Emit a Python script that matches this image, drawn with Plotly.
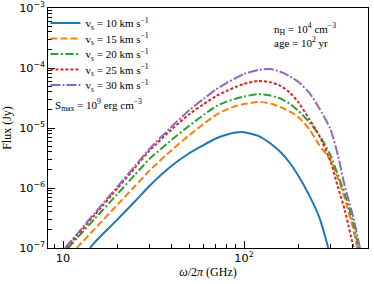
import plotly.graph_objects as go

# Frequencies (GHz) and fluxes (Jy)
f_10 = [14.1, 15, 20, 25, 30, 40, 50, 60, 70, 80, 90, 100, 120, 140, 160, 180, 200, 230, 260, 280, 292]
F_10 = [1.0e-7, 1.25e-7, 3.0e-7, 6.0e-7, 1.08e-6, 2.37e-6, 3.83e-6, 5.25e-6, 6.68e-6, 7.7e-6,
        8.38e-6, 8.51e-6, 7.4e-6, 5.52e-6, 3.9e-6, 2.56e-6, 1.58e-6, 7.4e-7, 3.29e-7, 1.6e-7, 1.0e-7]

f_15 = [11.9, 15, 20, 25, 30, 40, 50, 60, 70, 80, 90, 100, 120, 140, 160, 180, 200, 230, 260, 300, 330, 360, 400, 423]
F_15 = [1.0e-7, 2.1e-7, 5.29e-7, 1.08e-6, 1.94e-6, 4.35e-6, 7.64e-6, 1.18e-5, 1.65e-5, 2.03e-5, 2.33e-5,
        2.51e-5, 2.71e-5, 2.56e-5, 2.22e-5, 1.86e-5, 1.51e-5, 9.44e-6, 5.21e-6, 2.93e-6, 1.47e-6, 6.81e-7,
        2.15e-7, 1.0e-7]

f_20 = [10.66, 12, 15, 20, 25, 30, 40, 50, 60, 70, 80, 90, 100, 120, 140, 160, 180, 200, 230, 260, 300, 330, 360, 400, 428]
F_20 = [1.0e-7, 1.48e-7, 3.09e-7, 8.0e-7, 1.67e-6, 3.04e-6, 6.41e-6, 1.1e-5, 1.67e-5, 2.3e-5, 2.75e-5,
        3.08e-5, 3.35e-5, 3.66e-5, 3.48e-5, 3.07e-5, 2.51e-5, 1.92e-5, 1.24e-5, 7.7e-6, 3.55e-6, 1.65e-6,
        7.94e-7, 2.71e-7, 1.0e-7]

f_25 = [10.48, 12, 15, 20, 25, 30, 40, 50, 60, 70, 80, 90, 100, 120, 140, 160, 180, 200, 230, 260, 300, 330, 360, 403]
F_25 = [1.0e-7, 1.62e-7, 3.58e-7, 9.9e-7, 2.18e-6, 4.17e-6, 9.59e-6, 1.71e-5, 2.51e-5, 3.4e-5, 4.14e-5,
        4.83e-5, 5.45e-5, 6.07e-5, 5.8e-5, 5.0e-5, 3.83e-5, 2.66e-5, 1.39e-5, 7.5e-6, 2.82e-6, 1.04e-6,
        4.3e-7, 1.0e-7]

f_30 = [10.26, 12, 15, 20, 25, 30, 40, 50, 60, 70, 80, 90, 100, 120, 140, 160, 180, 200, 230, 260, 300, 330, 360, 400, 437]
F_30 = [1.0e-7, 1.74e-7, 3.85e-7, 1.06e-6, 2.34e-6, 4.47e-6, 1.07e-5, 2.0e-5, 3.09e-5, 4.4e-5, 5.62e-5,
        6.81e-5, 7.94e-5, 9.26e-5, 9.62e-5, 8.57e-5, 7.21e-5, 5.84e-5, 3.83e-5, 2.16e-5, 9.62e-6, 3.55e-6,
        1.08e-6, 3.41e-7, 1.0e-7]

labels = ["10", "15", "20", "25", "30"]
colors = ["#1f77b4", "#ff7f0e", "#2ca02c", "#d62728", "#9467bd"]
dashes = ["solid", "7px,3px", "8px,2.5px,2px,2.5px", "3px,2px", "10px,2px,2px,2px"]
series = [(f_10, F_10), (f_15, F_15), (f_20, F_20), (f_25, F_25), (f_30, F_30)]

SERIF = "Liberation Serif"
SANS = "DejaVu Sans"

# one legend box per series so the entry spacing can match the reference
legend_y = [0.9375, 0.873, 0.808, 0.744, 0.679]
legend_ids = ["legend", "legend2", "legend3", "legend4", "legend5"]

fig = go.Figure()
for (fx, Fy), lab, col, d, lid in zip(series, labels, colors, dashes, legend_ids):
    fig.add_trace(go.Scatter(
        x=fx, y=Fy, mode="lines",
        line=dict(color=col, width=2, dash=d, shape="spline", smoothing=0.6),
        name="v<sub>s</sub> = " + lab + " km s<sup>−1</sup>",
        legend=lid,
    ))

axis_common = dict(
    type="log", showgrid=False, zeroline=False, automargin=False,
    showline=True, linecolor="black", linewidth=1.2, mirror=True,
    ticks="inside", ticklen=7, tickwidth=1, tickcolor="black",
    exponentformat="power", dtick=1,
    tickfont=dict(family=SANS, size=9, color="black"),
    minor=dict(ticks="inside", ticklen=4, tickwidth=0.8, tickcolor="black", showgrid=False),
)

fig.update_xaxes(
    **axis_common,
    range=[0.917, 2.685],
    title=dict(text="<i>ω</i>/2<i>π</i> (GHz)", font=dict(family=SERIF, size=12, color="black"), standoff=1),
)
fig.update_yaxes(
    **axis_common,
    range=[-7, -3],
    title=dict(text="Flux (Jy)", font=dict(family=SERIF, size=12, color="black"), standoff=4),
)

fig.add_annotation(
    xref="paper", yref="paper", x=0.015, y=0.595, xanchor="left", yanchor="middle",
    text="S<sub>max</sub> = 10<sup>9</sup> erg cm<sup>−3</sup>", showarrow=False,
    font=dict(family=SERIF, size=11, color="black"),
)
fig.add_annotation(
    xref="paper", yref="paper", x=0.7, y=0.955, xanchor="left", yanchor="top",
    text="n<sub>H</sub> = 10<sup>4</sup> cm<sup>−3</sup><br>age = 10<sup>2</sup> yr", showarrow=False,
    align="left", font=dict(family=SERIF, size=11, color="black"),
)

legend_style = dict(
    x=-0.008, xanchor="left", yanchor="middle",
    bgcolor="rgba(0,0,0,0)", borderwidth=0,
    font=dict(family=SERIF, size=11, color="black"),
    itemwidth=30,
)
layout_legends = {lid: dict(legend_style, y=ly) for lid, ly in zip(legend_ids, legend_y)}

fig.update_layout(
    width=374, height=284,
    margin=dict(l=48, r=6, t=8, b=36),
    paper_bgcolor="white", plot_bgcolor="white",
    showlegend=True,
    **layout_legends,
)

fig.write_html("out.html", config={"displayModeBar": False},
               post_script="document.body.style.margin='0';")
